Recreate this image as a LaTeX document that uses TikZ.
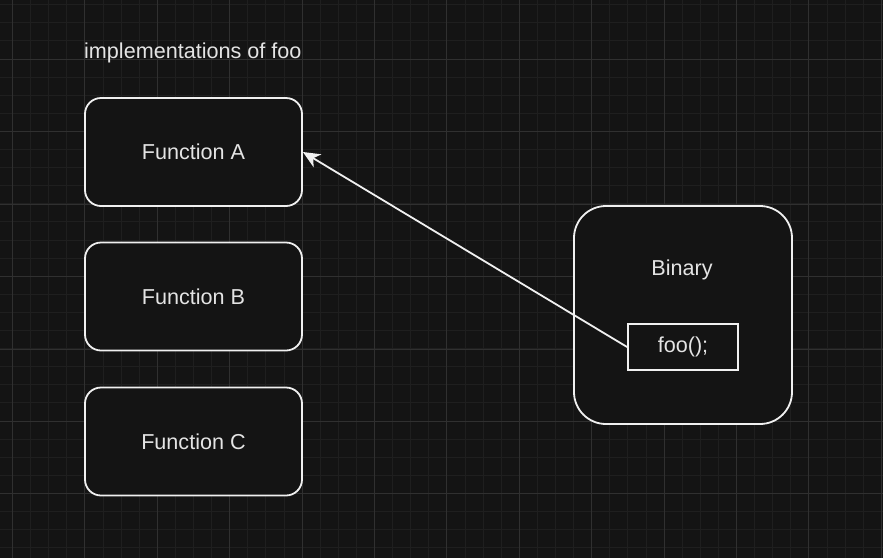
\documentclass[tikz,border=0pt]{standalone}
\usepackage{fontspec}
\setmainfont{Liberation Sans}
\usetikzlibrary{arrows.meta}
\definecolor{canvas}{HTML}{141414}
\definecolor{gridminor}{HTML}{1F1F1F}
\definecolor{gridmajor}{HTML}{303030}
\definecolor{edge}{HTML}{F0F0F0}
\definecolor{ink}{HTML}{E4E4E4}

\begin{document}
\begin{tikzpicture}[x=1pt, y=-1pt,
  func/.style={draw=edge, fill=canvas, rounded corners=16pt,
               minimum width=217pt, minimum height=108pt,
               line width=1.8pt, text=ink,
               font=\fontsize{21.6}{26}\selectfont},
  binbox/.style={draw=edge, fill=canvas, rounded corners=32pt,
                 minimum width=218pt, minimum height=218pt,
                 line width=1.8pt},
  callbox/.style={draw=edge, fill=canvas, minimum width=110pt,
                  minimum height=46pt, line width=1.8pt, text=ink,
                  font=\fontsize{21.6}{26}\selectfont},
  caption/.style={text=ink, inner sep=0pt,
                  font=\fontsize{21.6}{26}\selectfont},
  link/.style={draw=edge, line width=1.8pt,
               -{Stealth[length=17pt, width=15pt, inset=5pt]}},
]

% --- canvas and grid ---
\useasboundingbox (0,0) rectangle (883,558);
\fill[canvas] (0,0) rectangle (883,558);
\foreach \k in {0,...,48}
  \draw[gridminor, line width=0.9pt] (12.5+18.1*\k,0) -- (12.5+18.1*\k,558);
\foreach \k in {0,...,30}
  \draw[gridminor, line width=0.9pt] (0,4.7+18.1*\k) -- (883,4.7+18.1*\k);
\foreach \k in {0,...,12}
  \draw[gridmajor, line width=0.9pt] (12.5+72.4*\k,0) -- (12.5+72.4*\k,558);
\foreach \k in {0,...,6}
  \draw[gridmajor, line width=0.9pt] (0,59.5+72.4*\k) -- (883,59.5+72.4*\k);

% --- implementations ---
\node[caption, anchor=west] (impl) at (84,53) {implementations of foo};
\node[func] (fnA) at (193.5,152) {Function A};
\node[func] (fnB) at (193.5,296.5) {Function B};
\node[func] (fnC) at (193.5,441.5) {Function C};

% --- binary ---
\node[binbox] (bin) at (683,315) {};
\node[caption] (binlbl) at (682,270) {Binary};
\node[callbox] (foo) at (683,347) {foo();};

% --- call ---
\draw[link] (foo.west) -- (fnA.east);

\end{tikzpicture}
\end{document}
